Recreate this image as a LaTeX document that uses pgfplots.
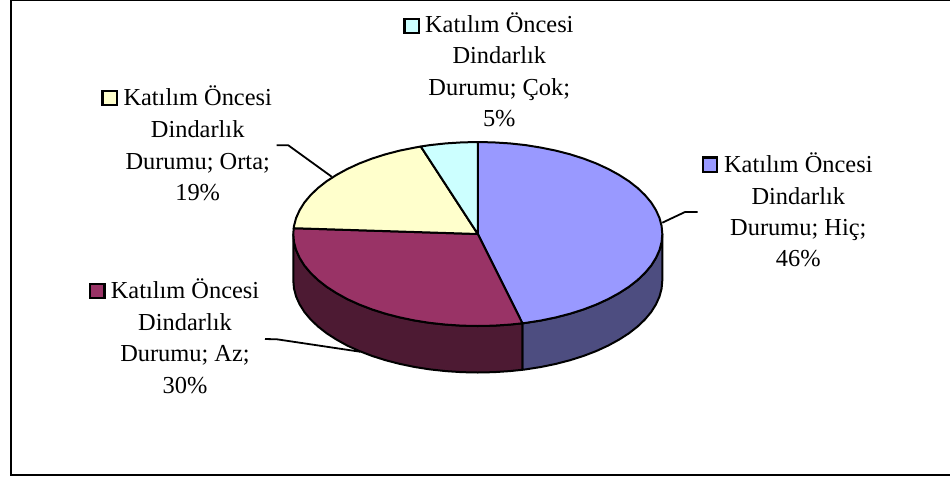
\documentclass[border=0pt]{standalone}
\usepackage{fontspec}
\setmainfont{Liberation Serif}
\usepackage{pgfplots}
\pgfplotsset{compat=1.18}
\definecolor{blueTop}{HTML}{9999FF}
\definecolor{blueSide}{HTML}{4D4D80}
\definecolor{marTop}{HTML}{993366}
\definecolor{marSide}{HTML}{4D1A33}
\definecolor{yelTop}{HTML}{FFFFCC}
\definecolor{cyaTop}{HTML}{CCFFFF}
\newcommand{\lbl}[3]{\node[anchor=base,inner sep=0pt,text=black,font=\fontsize{24.4}{31}\selectfont] at (axis cs:#1,#2) {#3};}
\begin{document}
\begin{tikzpicture}
\useasboundingbox (0,0) rectangle (950pt,477pt);
\begin{axis}[
  scale only axis, width=950pt, height=477pt,
  xmin=0, xmax=950, ymin=0, ymax=477, y dir=reverse,
  hide axis, clip=false,
  slice/.style={draw=black,line width=2pt,line join=round},
  lead/.style={draw=black,line width=1.8pt,line join=round},
  key/.style={only marks,mark=square*,mark size=7.2pt,mark options={fill=#1,draw=black,line width=2.1pt}}
]
% frame (open on the right)
\addplot[draw=black,line width=2pt,line join=miter] coordinates {(950,0.1)(11,0.1)(11,475)(950,475)};
% leader lines
\addplot[lead] coordinates {(662.3,222.7)(685,212)(697.7,212)};
\addplot[lead] coordinates {(276.7,145.3)(288.3,145.3)(331.7,176.7)};
\addplot[lead] coordinates {(265,339)(277,339.3)(360,351.7)};
% side walls
\addplot[slice,fill=blueSide] coordinates {
(662.3,234)(661.6,242.0)(659.5,250.0)(656.0,257.8)(651.2,265.5)(645.0,272.9)(637.6,280.0)(628.9,286.8)(619.1,293.1)(608.3,299.0)(596.4,304.5)(583.6,309.4)(570.1,313.7)(555.8,317.4)(540.9,320.5)(525.6,322.9)(522.4,323.3)
(522.4,369.8)(525.6,369.4)(540.9,367.0)(555.8,363.9)(570.1,360.2)(583.6,355.9)(596.4,351.0)(608.3,345.5)(619.1,339.6)(628.9,333.3)(637.6,326.5)(645.0,319.4)(651.2,312.0)(656.0,304.3)(659.5,296.5)(661.6,288.5)(662.3,280.5)
} -- cycle;
\addplot[slice,fill=marSide] coordinates {
(522.4,323.3)(509.8,324.6)(493.9,325.65)(477.8,326)(461.7,325.65)(445.8,324.6)(430.0,322.9)(414.7,320.5)(399.8,317.4)(385.5,313.7)(372.0,309.4)(359.2,304.5)(347.3,299.1)(336.5,293.1)(326.7,286.8)(318.0,280.0)(310.6,272.9)(304.4,265.5)(299.6,257.8)(296.1,250.0)(294.0,242.0)(293.3,234)
(293.3,280.5)(294.0,288.5)(296.1,296.5)(299.6,304.3)(304.4,312.0)(310.6,319.4)(318.0,326.5)(326.7,333.3)(336.5,339.6)(347.3,345.6)(359.2,351.0)(372.0,355.9)(385.5,360.2)(399.8,363.9)(414.7,367.0)(430.0,369.4)(445.8,371.1)(461.7,372.15)(477.8,372.5)(493.9,372.15)(509.8,371.1)(522.4,369.8)
} -- cycle;
% Hic 46%
\addplot[slice,fill=blueTop] coordinates {
(477.8,234)(477.8,142)(493.9,142.4)(509.8,143.4)(525.6,145.1)(540.9,147.6)(555.8,150.6)(570.1,154.3)(583.6,158.6)(596.4,163.5)(608.3,169.0)(619.1,174.9)(628.9,181.2)(637.6,188.0)(645.0,195.1)(651.2,202.5)(656.0,210.2)(659.5,218.0)(661.6,226.0)(662.3,234)(661.6,242.0)(659.5,250.0)(656.0,257.8)(651.2,265.5)(645.0,272.9)(637.6,280.0)(628.9,286.8)(619.1,293.1)(608.3,299.0)(596.4,304.5)(583.6,309.4)(570.1,313.7)(555.8,317.4)(540.9,320.5)(525.6,322.9)(522.4,323.3)
} -- cycle;
% Az 30%
\addplot[slice,fill=marTop] coordinates {
(477.8,234)(522.4,323.3)(509.8,324.6)(493.9,325.65)(477.8,326)(461.7,325.65)(445.8,324.6)(430.0,322.9)(414.7,320.5)(399.8,317.4)(385.5,313.7)(372.0,309.4)(359.2,304.5)(347.3,299.1)(336.5,293.1)(326.7,286.8)(318.0,280.0)(310.6,272.9)(304.4,265.5)(299.6,257.8)(296.1,250.0)(294.0,242.0)(293.3,234)(293.7,228.2)
} -- cycle;
% Orta 19%
\addplot[slice,fill=yelTop] coordinates {
(477.8,234)(293.7,228.2)(294.0,226.0)(296.1,218.0)(299.6,210.2)(304.4,202.5)(310.6,195.1)(318.0,188.0)(326.7,181.2)(336.5,174.9)(347.3,169.0)(359.2,163.5)(372.0,158.6)(385.5,154.3)(399.8,150.6)(414.7,147.6)(420.8,146.5)
} -- cycle;
% Cok 5%
\addplot[slice,fill=cyaTop] coordinates {
(477.8,234)(420.8,146.5)(430.0,145.1)(445.8,143.4)(461.7,142.4)(477.8,142)
} -- cycle;
% legend keys
\addplot[key=blueTop] coordinates {(710,164.7)};
\addplot[key=marTop] coordinates {(97.3,291)};
\addplot[key=yelTop] coordinates {(109.7,97.9)};
\addplot[key=cyaTop] coordinates {(411.7,26)};
% labels
\lbl{798.3}{172.3}{Katılım Öncesi}
\lbl{798.3}{204}{Dindarlık}
\lbl{798.3}{235.7}{Durumu; Hiç;}
\lbl{798.3}{266.8}{46\%}
\lbl{185}{298.3}{Katılım Öncesi}
\lbl{185}{330}{Dindarlık}
\lbl{185}{361.7}{Durumu; Az;}
\lbl{185}{393.5}{30\%}
\lbl{197.7}{105}{Katılım Öncesi}
\lbl{197.7}{137}{Dindarlık}
\lbl{197.7}{169}{Durumu; Orta;}
\lbl{197.7}{200}{19\%}
\lbl{499.3}{32.3}{Katılım Öncesi}
\lbl{499.3}{63.6}{Dindarlık}
\lbl{499.3}{95.5}{Durumu; Çok;}
\lbl{499.3}{126.8}{5\%}
\end{axis}
\end{tikzpicture}
\end{document}
